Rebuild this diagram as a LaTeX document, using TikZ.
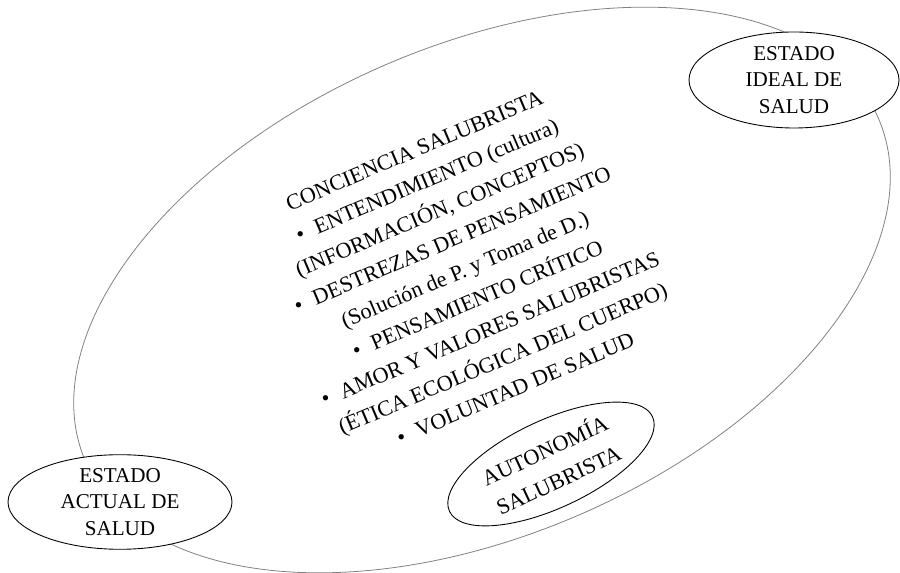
\documentclass[tikz,border=0pt]{standalone}
\usepackage{fontspec}
\setmainfont{Liberation Serif}
\usepackage{tikz}
\usetikzlibrary{shapes.geometric}
\tikzstyle{estado} = [ellipse, draw, fill=white, line width=0.5pt, inner sep=0pt, align=center, font=\fontsize{12}{15}\selectfont]
\newcommand{\punto}{\textbullet\hspace{0.55em}}

\begin{document}
\begin{tikzpicture}[every node/.style={align=center}]
        \useasboundingbox (0,0) rectangle (18,11.46);
        % Node positions
        \node (campo) [ellipse, draw=gray, line width=0.45pt, rotate=23.4, minimum width=17.28cm, minimum height=9.8cm] at (9.64,5.66) {};
        \node (lista) [rotate=23, font=\fontsize{12.6}{18.4}\selectfont] at (9.30,6.07)
          {CONCIENCIA SALUBRISTA\\
           \punto ENTENDIMIENTO (cultura)\\
           (INFORMACIÓN, CONCEPTOS)\\
           \punto DESTREZAS DE PENSAMIENTO\\
           (Solución de P. y Toma de D.)\\
           \punto PENSAMIENTO CRÍTICO\\
           \punto AMOR Y VALORES SALUBRISTAS\\
           (ÉTICA ECOLÓGICA DEL CUERPO)\\
           \punto VOLUNTAD DE SALUD};
        \node (ideal) [estado, minimum width=4.2cm, minimum height=1.92cm] at (15.88,9.86) {ESTADO\\ IDEAL DE\\ SALUD};
        \node (actual) [estado, minimum width=4.48cm, minimum height=1.84cm] at (2.40,1.42) {ESTADO\\ ACTUAL DE\\ SALUD};
        \node (autonomia) [estado, rotate=25, minimum width=4.48cm, minimum height=1.76cm, font=\fontsize{12.6}{18.5}\selectfont] at (11.02,2.18) {AUTONOMÍA\\ SALUBRISTA};
      \end{tikzpicture}
\end{document}
